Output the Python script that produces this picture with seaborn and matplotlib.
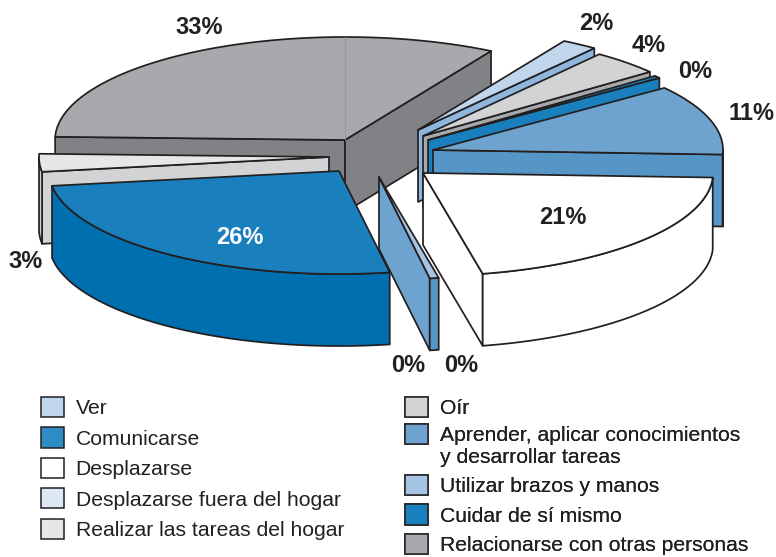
import numpy as np
import matplotlib
matplotlib.use("Agg")
import matplotlib.pyplot as plt
from matplotlib.patches import Patch
import seaborn as sns

# --- data (clockwise from the left of the pie) ---
categories = ["Relacionarse con otras personas", "Ver", "Oír", "Cuidar de sí mismo",
              "Aprender, aplicar conocimientos\ny desarrollar tareas", "Desplazarse",
              "Utilizar brazos y manos", "Desplazarse fuera del hogar", "Comunicarse",
              "Realizar las tareas del hogar"]
values = [32.9, 2.0, 3.9, 0.4, 11.0, 21.0, 0.5, 0.0, 25.5, 2.8]
labels = ["33%", "2%", "4%", "0%", "11%", "21%", "0%", "0%", "26%", "3%"]

legend_left = ["Ver", "Comunicarse", "Desplazarse", "Desplazarse fuera del hogar",
               "Realizar las tareas del hogar"]
legend_right = ["Oír", "Aprender, aplicar conocimientos\ny desarrollar tareas",
                "Utilizar brazos y manos", "Cuidar de sí mismo",
                "Relacionarse con otras personas"]

# --- styles and layout ---
top_colors = ["#A7A9AC", "#C0D6EC", "#D1D3D4", "#1A80BD", "#6FA3CF", "#FFFFFF",
              "#A5C3E2", "#DCE8F4", "#1A80BD", "#E6E7E9"]
face_colors = ["#808285", "#8FB6DC", "#A7A9AC", "#1A80BD", "#5596C6", "#FFFFFF",
               "#6FA3CF", "#DCE8F4", "#006FB0", "#D1D3D4"]
side_colors = ["#808285", "#8FB6DC", "#A7A9AC", "#1A80BD", "#5596C6", "#FFFFFF",
               "#5596C6", "#DCE8F4", "#006FB0", "#D1D3D4"]
swatch_override = {"Comunicarse": "#2E8CC4"}
explode = [(0, 0), (73, -10), (78, -4), (83, 0), (88, 10), (78, 33),
           (34, 37), (34, 37), (-6, 31), (-16, 17)]
draw_order = [0, 1, 2, 3, 4, 5, 6, 7, 9, 8]
label_pos = [(199, 27), (596, 23), (649, 46), (695, 71), (751, 113), (563, 218),
             (408, 365), (461, 365), (240, 238), (26, 262)]
label_colors = ["#231F20"] * 8 + ["white", "#231F20"]

CX, CY, RX, RY, DEPTH, START = 345, 140, 290, 103, 72, 178.2
EDGE = "#231F20"
LW = 1.25

sns.set_theme(style="white")
plt.rcParams["font.family"] = ["Liberation Sans", "DejaVu Sans"]
palette = sns.color_palette(top_colors)

fig = plt.figure(figsize=(7.76, 5.57), dpi=100)
ax = fig.add_axes([0, 0, 1, 1])
ax.set_xlim(0, 776)
ax.set_ylim(557, 0)
ax.axis("off")


def arc(cx, cy, a, b, dz=0):
    t = np.radians(np.linspace(a, b, 80))
    return np.column_stack([cx + RX * np.cos(t), cy - RY * np.sin(t) + dz])


def poly(pts, color, z):
    ax.fill(pts[:, 0], pts[:, 1], facecolor=color, edgecolor=EDGE, linewidth=LW,
            joinstyle="round", zorder=z)


def radial_face(cx, cy, a, color, z):
    tip = arc(cx, cy, a, a)[0]
    pts = np.array([[cx, cy], tip, tip + [0, DEPTH], [cx, cy + DEPTH]])
    poly(pts, color, z)


sweeps = 3.6 * np.array(values) / (sum(values) / 100)
ends = START - np.cumsum(sweeps)
starts = ends + sweeps

for rank, i in enumerate(draw_order):
    if values[i] <= 0:
        continue
    t0, t1 = starts[i], ends[i]
    cx, cy = CX + explode[i][0], CY + explode[i][1]
    z = 10 + rank * 5
    if np.cos(np.radians(t0)) < 0:
        radial_face(cx, cy, t0, face_colors[i], z)
    if np.cos(np.radians(t1)) > 0:
        radial_face(cx, cy, t1, face_colors[i], z)
    lo, hi = max(t1, -180), min(t0, 0)
    if hi > lo:
        upper = arc(cx, cy, hi, lo)
        lower = arc(cx, cy, lo, hi, DEPTH)
        poly(np.vstack([upper, lower]), side_colors[i], z + 1)
    top = np.vstack([[cx, cy], arc(cx, cy, t0, t1)])
    poly(top, palette[i], z + 2)

# faint seam on the largest slice
ax.plot([CX, CX], [CY, CY - RY], color="#939598", lw=0.6, zorder=13)

for (x, y), s, c in zip(label_pos, labels, label_colors):
    ax.text(x, y, s, ha="center", va="center", fontsize=17, fontweight="bold",
            color=c, zorder=100)


def swatch(name):
    i = categories.index(name)
    return Patch(facecolor=swatch_override.get(name, top_colors[i]), edgecolor=EDGE,
                 linewidth=1.1, label=name)


for names, x, spacing in ((legend_left, 41, 0.435), (legend_right, 405, 0.39)):
    leg = ax.legend(handles=[swatch(n) for n in names], loc="upper left",
                    bbox_to_anchor=(x, 397), bbox_transform=ax.transData,
                    frameon=False, fontsize=15.2, handlelength=1.09, handleheight=1.09,
                    handletextpad=0.55, labelspacing=spacing, borderpad=0, borderaxespad=0,
                    labelcolor="#231F20")
    for t, h in zip(leg.get_texts(), leg.legend_handles):
        t.set_linespacing(1.15)
        if "\n" in t.get_text():
            h.set_y(h.get_y() + 9.5)
    ax.add_artist(leg)
    leg.set_zorder(100)

fig.savefig("out.png", dpi=100)
